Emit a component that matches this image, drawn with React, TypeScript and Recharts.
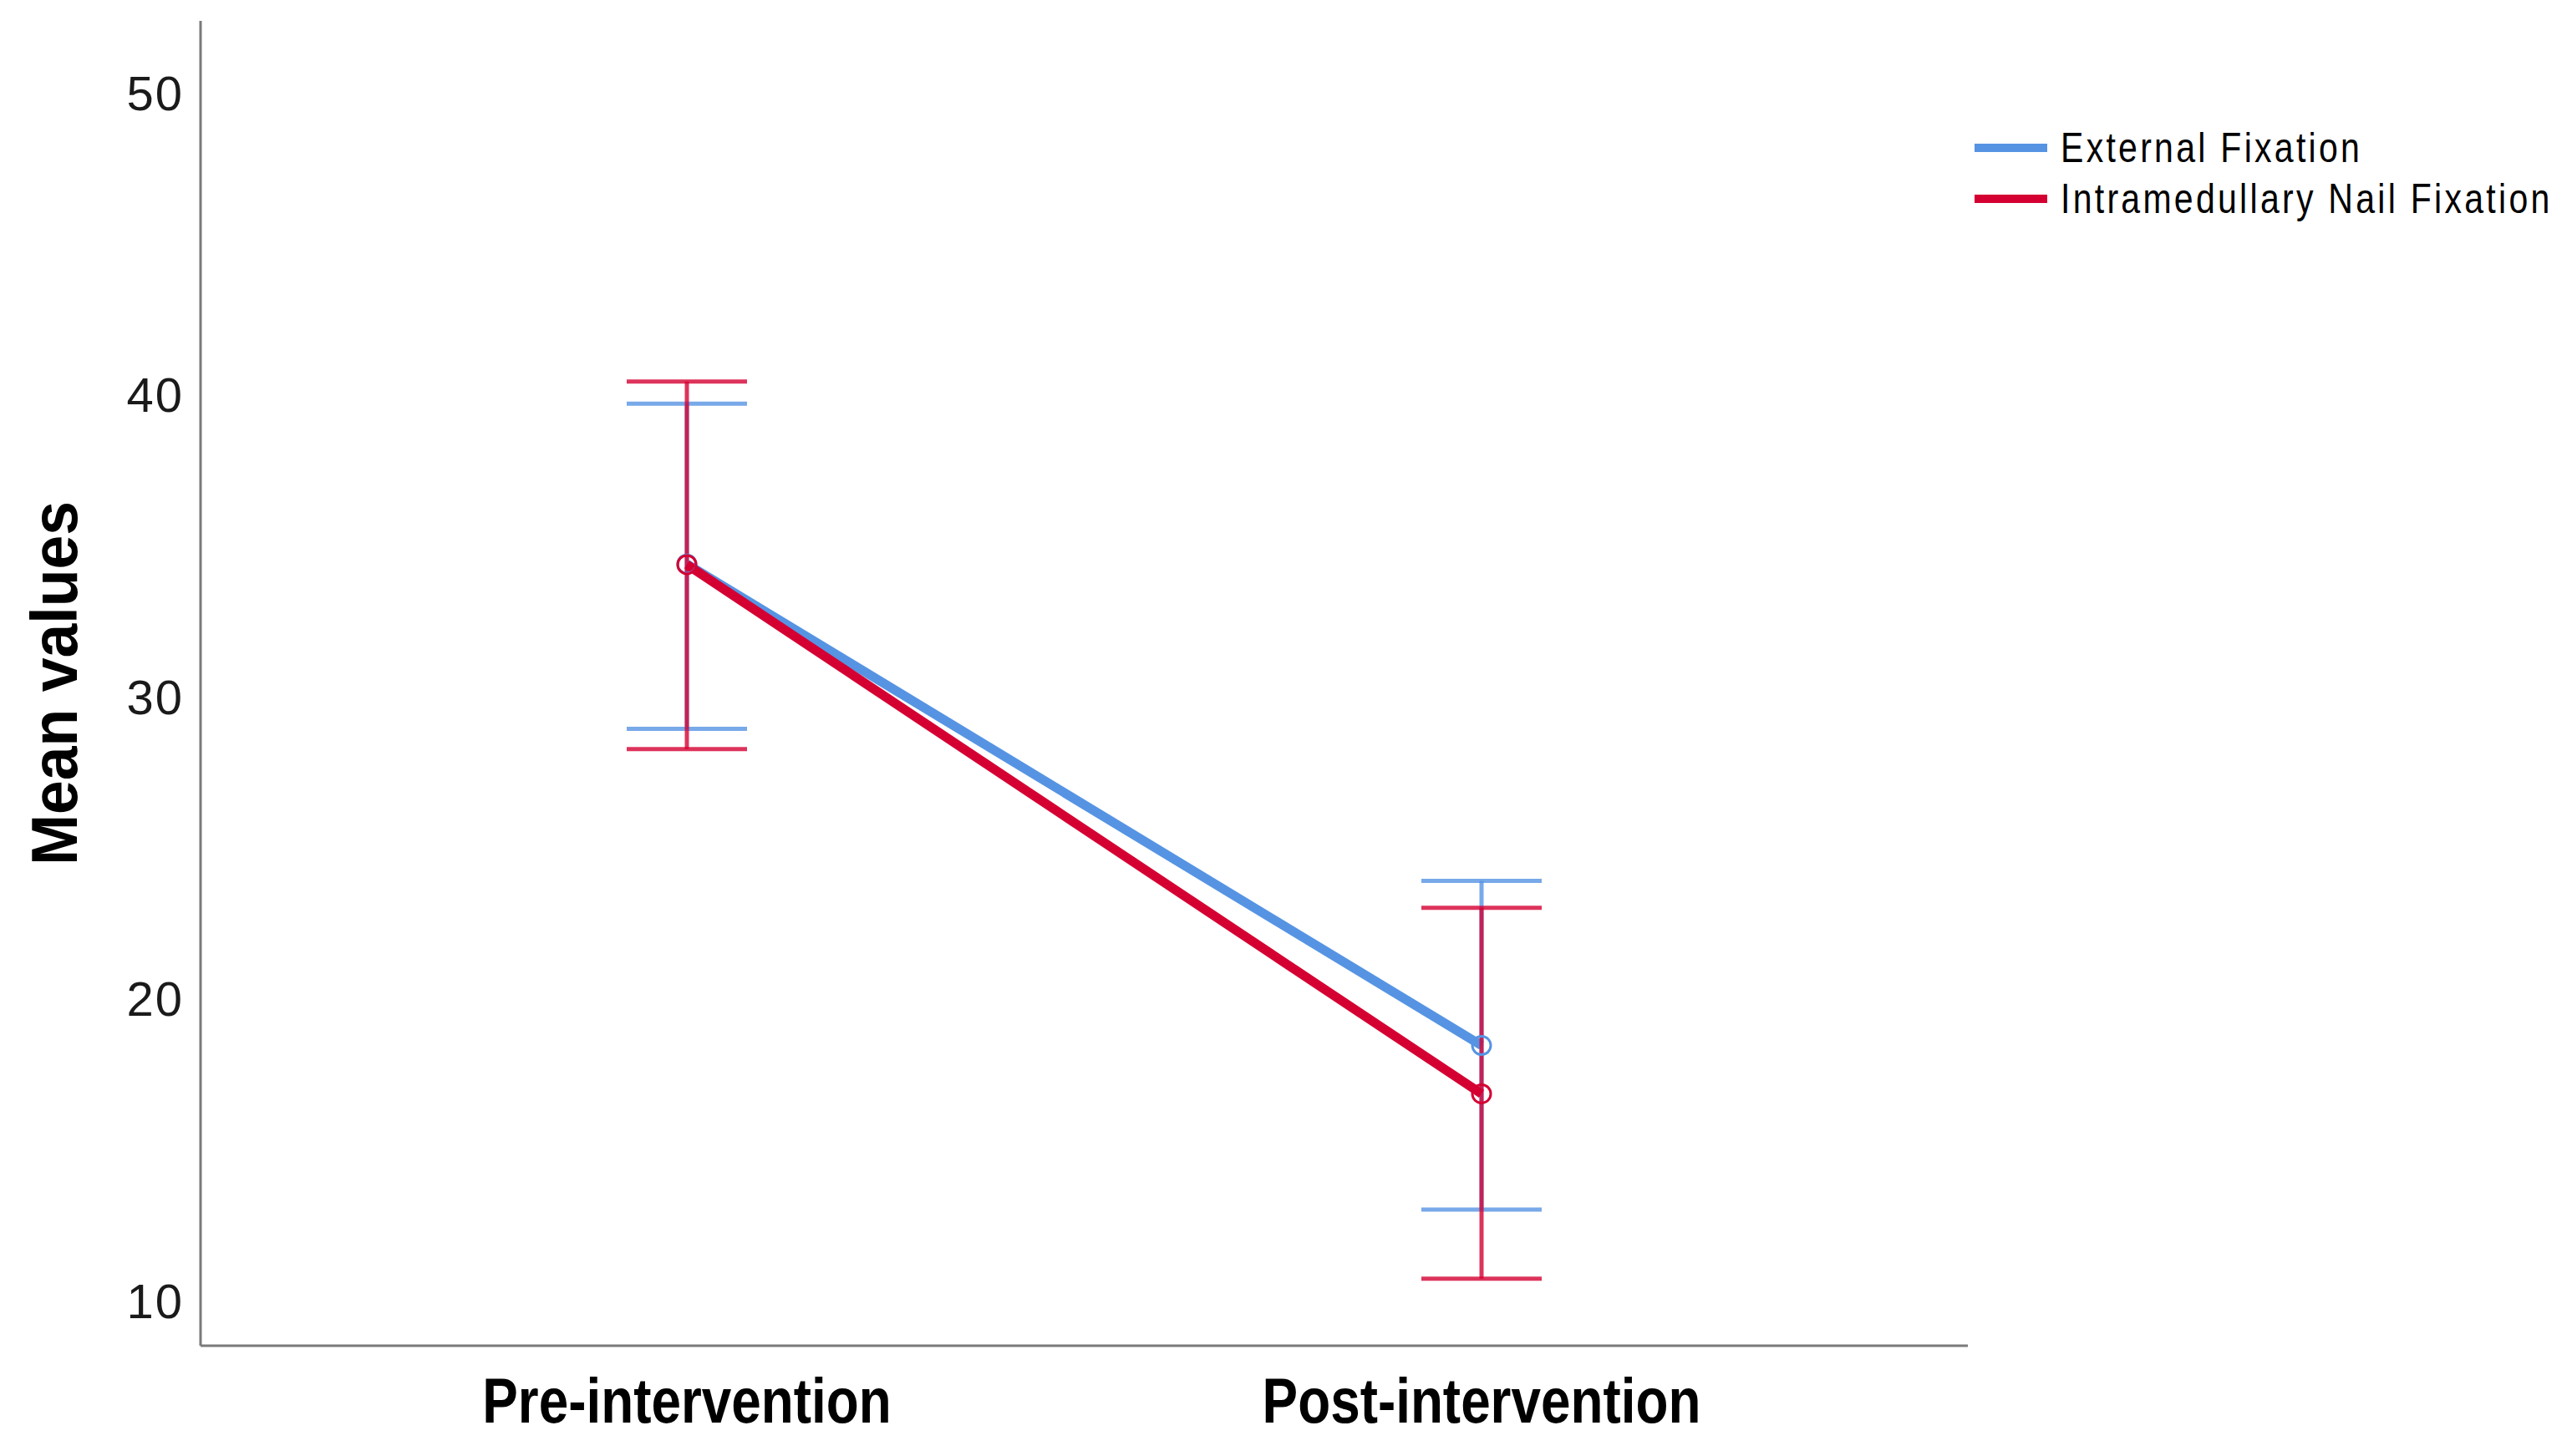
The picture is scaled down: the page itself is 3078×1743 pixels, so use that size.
import { LineChart, Line, XAxis, YAxis, ErrorBar, Legend } from "recharts";

// timepoints
const phases = ["Pre-intervention", "Post-intervention"];

// External Fixation: mean and 95% CI
const externalMean = [34.4, 18.46];
const externalLow = [28.94, 13.03];
const externalHigh = [39.71, 23.91];

// Intramedullary Nail Fixation: mean and 95% CI
const nailMean = [34.38, 16.86];
const nailLow = [28.27, 10.74];
const nailHigh = [40.44, 23.02];

const yTicks = [10, 20, 30, 40, 50];

const BLUE = "#5694e3";
const RED = "#d50032";
const SANS = "'Liberation Sans', Arial, sans-serif";

const data = phases.map((name, i) => ({
  name,
  ext: externalMean[i],
  extErr: [externalMean[i] - externalLow[i], externalHigh[i] - externalMean[i]],
  nail: nailMean[i],
  nailErr: [nailMean[i] - nailLow[i], nailHigh[i] - nailMean[i]],
}));

const hollowDot = (color: string) => (props: any) => {
  const { cx, cy, index } = props;
  return <circle key={index} cx={cx} cy={cy} r={11} fill="none" stroke={color} strokeWidth={3} />;
};

// bold condensed category labels (no narrow font installed, so squeeze horizontally)
const XTick = (props: any) => {
  const { x, y, payload } = props;
  return (
    <text
      x={x}
      y={y}
      dy="0.71em"
      textAnchor="middle"
      transform={`translate(${x} 0) scale(0.84 1) translate(${-x} 0)`}
      fontFamily={SANS}
      fontWeight="bold"
      fontSize={76}
      fill="#000"
    >
      {payload.value}
    </text>
  );
};

const YTitle = (props: any) => {
  const { viewBox } = props;
  const x = viewBox.x + 65;
  const y = viewBox.y + viewBox.height / 2;
  return (
    <text
      x={x}
      y={y}
      transform={`rotate(-90 ${x} ${y}) translate(${x} 0) scale(0.94 1) translate(${-x} 0)`}
      textAnchor="middle"
      dominantBaseline="central"
      fontFamily={SANS}
      fontWeight="bold"
      fontSize={78}
      fill="#000"
    >
      Mean values
    </text>
  );
};

const LegendBox = (props: any) => {
  const { payload } = props;
  return (
    <div style={{ fontFamily: SANS, fontSize: 50, color: "#000" }}>
      {(payload || []).map((p: any) => (
        <div key={p.value} style={{ display: "flex", alignItems: "center", height: 61, whiteSpace: "nowrap" }}>
          <div style={{ width: 87, height: 10, background: p.color, marginRight: 16, flex: "none" }} />
          <span
            style={{
              display: "inline-block",
              letterSpacing: 4,
              transform: "scaleX(0.82)",
              transformOrigin: "left center",
            }}
          >
            {p.value}
          </span>
        </div>
      ))}
    </div>
  );
};

export default function App() {
  return (
    <div style={{ position: "absolute", left: 0, top: 0, background: "#fff" }}>
      <LineChart
        width={3078}
        height={1743}
        data={data}
        margin={{ top: 25, right: 8, bottom: 0, left: 0 }}
      >
        <XAxis
          dataKey="name"
          height={132}
          interval={0}
          padding={{ left: 582, right: 582 }}
          axisLine={{ stroke: "#7a7a7a", strokeWidth: 3 }}
          tickLine={false}
          tickSize={0}
          tickMargin={38}
          tick={<XTick />}
        />
        <YAxis
          width={240}
          domain={[8.52, 52.38]}
          ticks={yTicks}
          allowDataOverflow
          axisLine={{ stroke: "#7a7a7a", strokeWidth: 3 }}
          tickLine={false}
          tickSize={0}
          tickMargin={20}
          tick={{ fill: "#1a1a1a", fontSize: 58, fontFamily: SANS, letterSpacing: 2 }}
          label={<YTitle />}
        />
        <Legend
          layout="vertical"
          verticalAlign="top"
          align="right"
          content={<LegendBox />}
          wrapperStyle={{ position: "absolute", left: 2363, top: 146, width: 715 }}
        />
        <Line
          name="External Fixation"
          dataKey="ext"
          stroke={BLUE}
          strokeWidth={11}
          dot={hollowDot(BLUE)}
          activeDot={false}
          isAnimationActive={false}
        >
          <ErrorBar dataKey="extErr" width={72} stroke={BLUE} strokeWidth={5} strokeOpacity={0.8} isAnimationActive={false} />
        </Line>
        <Line
          name="Intramedullary Nail Fixation"
          dataKey="nail"
          stroke={RED}
          strokeWidth={11}
          dot={hollowDot(RED)}
          activeDot={false}
          isAnimationActive={false}
        >
          <ErrorBar dataKey="nailErr" width={72} stroke={RED} strokeWidth={5} strokeOpacity={0.8} isAnimationActive={false} />
        </Line>
      </LineChart>
    </div>
  );
}
